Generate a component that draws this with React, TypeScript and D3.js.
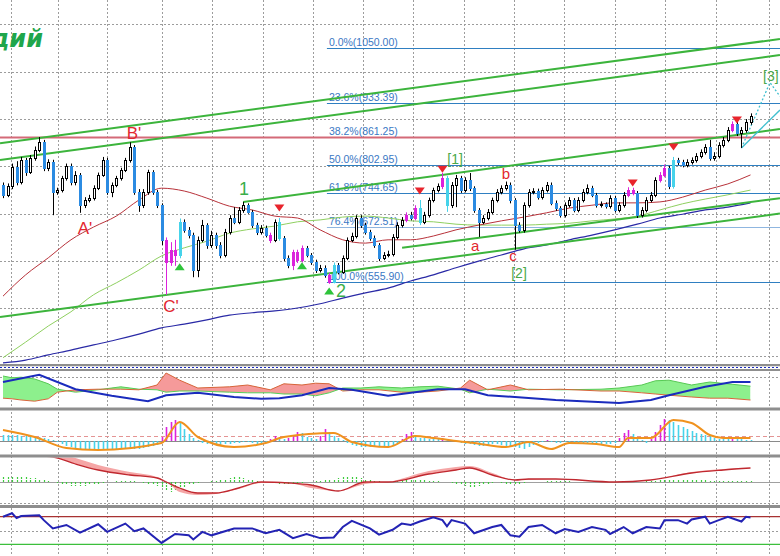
import React from "react";
import * as d3 from "d3";

// ---------- price candles (daily), index 0..165 ----------
const firstOpen = 760;
const closes = [
  740, 758, 799, 767, 813, 788, 818, 835, 851, 796,
  809, 746, 750, 775, 801, 767, 782, 718, 729, 733,
  754, 782, 813, 746, 761, 775, 792, 813, 841, 746,
  718, 746, 788, 746, 718, 645, 598, 624, 613, 683,
  666, 655, 581, 645, 676, 634, 655, 634, 613, 661,
  691, 683, 708, 718, 704, 676, 661, 670, 655, 645,
  683, 649, 607, 592, 619, 602, 628, 613, 598, 581,
  586, 571, 556, 592, 577, 607, 645, 653, 691, 676,
  661, 649, 634, 607, 613, 615, 651, 676, 687, 697,
  691, 712, 683, 697, 729, 750, 758, 775, 718, 761,
  775, 750, 771, 754, 708, 683, 691, 704, 729, 746,
  754, 761, 729, 676, 666, 718, 746, 748, 735, 750,
  761, 723, 712, 697, 718, 729, 708, 729, 746, 754,
  740, 718, 720, 716, 733, 708, 718, 740, 750, 744,
  697, 708, 729, 740, 771, 782, 796, 758, 813, 809,
  803, 809, 813, 822, 830, 841, 818, 822, 845, 856,
  877, 889, 870, 877, 894, 906,
];
const highs = [
  766, 764, 806, 811, 820, 818, 824, 842, 862, 856,
  815, 814, 755, 780, 806, 806, 790, 786, 735, 740,
  760, 787, 820, 818, 766, 780, 797, 818, 851, 845,
  752, 752, 793, 792, 750, 722, 650, 640, 645, 690,
  688, 672, 660, 652, 687, 680, 664, 660, 640, 668,
  697, 714, 714, 725, 722, 708, 681, 676, 675, 660,
  688, 691, 653, 612, 624, 624, 633, 632, 617, 603,
  592, 591, 575, 597, 596, 612, 650, 660, 697, 697,
  681, 666, 654, 638, 619, 622, 657, 682, 693, 703,
  704, 718, 729, 704, 734, 755, 764, 786, 780, 767,
  782, 780, 777, 786, 758, 712, 697, 710, 734, 752,
  760, 768, 766, 733, 682, 724, 752, 754, 753, 756,
  767, 766, 728, 716, 724, 735, 733, 735, 752, 762,
  759, 744, 726, 724, 739, 738, 724, 746, 756, 755,
  748, 714, 735, 746, 777, 788, 804, 801, 820, 818,
  814, 815, 819, 828, 836, 847, 856, 830, 851, 862,
  883, 895, 894, 883, 900, 912,
];
const lows = [
  733, 735, 752, 760, 762, 780, 784, 812, 830, 790,
  790, 697, 740, 745, 770, 760, 760, 702, 712, 724,
  728, 750, 778, 740, 735, 756, 770, 788, 808, 740,
  704, 712, 740, 740, 712, 634, 529, 590, 590, 606,
  660, 648, 566, 566, 640, 626, 628, 626, 606, 608,
  656, 678, 678, 702, 700, 670, 655, 656, 650, 638,
  640, 643, 600, 585, 581, 596, 597, 608, 592, 575,
  576, 565, 552, 553, 572, 573, 602, 640, 648, 670,
  656, 643, 628, 600, 602, 608, 610, 646, 671, 682,
  686, 686, 676, 678, 692, 724, 745, 752, 704, 712,
  714, 744, 745, 748, 702, 651, 678, 686, 699, 724,
  741, 749, 722, 624, 660, 660, 713, 741, 730, 730,
  745, 718, 706, 692, 692, 713, 703, 703, 724, 741,
  735, 713, 713, 711, 711, 703, 703, 713, 735, 739,
  691, 692, 703, 724, 735, 766, 777, 752, 753, 803,
  798, 798, 804, 808, 817, 825, 812, 812, 817, 840,
  851, 872, 864, 839, 871, 888,
];
const magentaIdx = [36, 37, 38, 59, 64, 65, 66, 72, 89, 91, 97, 138, 139, 145, 146, 161];
const cyanIdx = [39, 61, 73, 92, 98, 148];

// moving averages sampled every 5 bars (index 0,5,...,165)
const maStep = 5;
const maRed = [526, 571, 607, 645, 672, 695, 729, 754, 748, 733, 716, 708, 695, 691, 666, 645, 638, 645, 645, 653, 666, 676, 685, 693, 702, 712, 718, 723, 723, 725, 735, 750, 763, 782];
const maGreen = [396, 429, 463, 493, 529, 554, 581, 611, 628, 642, 659, 668, 674, 683, 687, 693, 695, 691, 685, 683, 678, 676, 676, 676, 678, 680, 685, 689, 695, 708, 721, 731, 740, 750];
const maNavy = [385, 391, 402, 412, 423, 434, 446, 459, 467, 476, 486, 491, 495, 501, 510, 522, 533, 543, 558, 571, 586, 600, 613, 626, 634, 645, 655, 666, 678, 691, 699, 708, 714, 723];

// Fibonacci retracement
const fibHigh = 1050.0;
const fibLow = 555.9;
const fibStartIdx = 71.5;
const fibLevels = [0, 23.6, 38.2, 50.0, 61.8, 76.4, 100.0];

// trend channel lines: [index, price] endpoints
const channelA = [[-0.66, 849], [171.5, 1069]];
const channelB = [[-0.66, 813.5], [171.5, 1035]];
const channelC = [[53, 725], [171.5, 879]];
const channelD = [[88.1, 628], [171.5, 733]];
const channelE = [[-0.66, 482], [171.5, 700.5]];
const projSolid = [[163, 839], [171.5, 919]];
const projDotted = [[163, 839], [169.3, 977], [171.5, 948]];

// markers
const downMarks = [[61, 712], [92, 748], [97, 794], [139, 765], [148, 841], [162, 898]];
const upMarks = [[39, 588], [66, 590], [72, 537]];

const waveLabels = [
  { t: "A'", i: 18.1, p: 670, c: "#e3262f", s: 17 },
  { t: "B'", i: 28.9, p: 870, c: "#e3262f", s: 17 },
  { t: "C'", i: 37.1, p: 505, c: "#e3262f", s: 17 },
  { t: "1", i: 53.2, p: 752, c: "#3aae4a", s: 18 },
  { t: "2", i: 74.6, p: 537, c: "#3aae4a", s: 18 },
  { t: "[1]", i: 99.8, p: 816, c: "#4aa84a", s: 14 },
  { t: "[2]", i: 113.9, p: 575, c: "#4aa84a", s: 14 },
  { t: "[3]", i: 169.5, p: 991, c: "#4aa84a", s: 14 },
  { t: "a", i: 104.2, p: 632, c: "#e3262f", s: 15 },
  { t: "b", i: 111, p: 784, c: "#e3262f", s: 15 },
  { t: "c", i: 112.6, p: 612, c: "#e3262f", s: 15 },
];

// time grid (index positions of date separators)
const gridIdx = [1.8, 12.1, 23, 35.1, 46.1, 57.4, 68.4, 79.5, 90.5, 101.8, 112.8, 123.8, 135.1, 146.1, 157.4, 169.1];

// ---------- panel 2: directional indicator ----------
const diIdx = [0, 2, 4, 7, 10, 12, 16, 21, 26, 30, 34, 36, 39, 43, 50, 54, 59, 62, 66, 69, 72, 75, 79, 83, 88, 92, 96, 101, 103, 107, 112, 116, 123, 132, 136, 141, 144, 147, 152, 156, 160, 165];
const diPlus = [50, 47, 48, 45, 37, 28, 23, 27, 32, 28, 27, 23, 25, 25, 23, 22, 22, 20, 20, 17, 22, 30, 30, 32, 30, 32, 33, 28, 22, 28, 25, 28, 27, 28, 30, 35, 42, 43, 35, 40, 37, 33];
const diMinus = [13, 12, 10, 8, 12, 23, 27, 28, 28, 27, 35, 55, 43, 30, 32, 35, 27, 37, 35, 38, 37, 25, 27, 27, 23, 23, 25, 30, 43, 27, 35, 27, 28, 25, 25, 22, 20, 18, 15, 13, 13, 10];
const adxPts = [[0, 40], [8, 52], [16, 28], [24, 17], [32, 8], [36, 18], [43, 22], [51, 15], [57, 12], [61, 13], [66, 18], [72, 30], [77, 27], [85, 17], [96, 28], [102, 28], [107, 18], [113, 15], [122, 10], [136, 5], [143, 10], [147, 18], [155, 32], [161, 40], [165, 40]];

// ---------- panel 3: oscillator histogram + signal ----------
const oscHist = [
  6, 6, 6, 6, 5, 5, 5, 4, 4, 3,
  2, 1, -1, -3, -5, -6, -7, -8, -9, -9,
  -9, -9, -9, -9, -8, -8, -8, -8, -7, -8,
  -8, -7, -6, -5, -4, 4, 14, 19, 21, 18,
  12, 7, 3, 1, -2, -3, -3, -4, -4, -3,
  -3, -2, -2, -1, -1, -2, -3, -3, -2, 2,
  5, 3, 2, 3, 6, 9, 8, 4, 3, 2,
  5, 12, 9, 5, 3, 1, -2, -4, -5, -6,
  -6, -6, -6, -5, -5, -6, -5, -3, 2, 7,
  9, 6, 3, 3, 2, 2, 2, 3, 1, 1,
  -1, -2, -3, -3, -4, -5, -5, -4, -3, -3,
  -4, -5, -5, -6, -7, -8, -6, -4, -2, -1,
  1, -1, -2, -2, -1, -2, -3, -3, -3, -3,
  -3, -3, -3, -3, -3, -2, 3, 8, 11, 7,
  3, 1, -2, 2, 9, 16, 22, 21, 19, 16,
  14, 12, 10, 8, 7, 6, 5, 3, 2, 2,
  2, 4, 3, 2, 1, 1,
];
const oscSignal = [[0, 11], [7, 4], [14, -7], [21, -9], [35, -2], [39, 19], [43, 4], [51, -6], [58, -2], [62, 4], [73, 8], [77, -1], [85, -6], [91, 5], [95, 3], [102, -1], [104, -2], [111, -6], [116, -1], [121, -8], [125, -2], [131, -3], [136, -6], [138, 3], [143, 3], [148, 21], [152, 18], [156, 6], [159, 3], [165, 3]];
const oscLevel = 5;

// ---------- panel 4: MACD-like line, signal, histogram ----------
const mIdx = [0, 11, 16, 21, 28, 34, 36, 39, 43, 47, 52, 57, 63, 68, 74, 80, 85, 94, 100, 103, 108, 113, 116, 122, 135, 143, 152, 159, 165];
const mMain = [28, 25, 18, 12, 7, 4, 0, -6, -11, -11, -6, 0, -1, -3, -9, 0, 0, 8, 12, 14, 7, 2, 3, 3, 0, 2, 9, 12, 14];
const mSignal = [28, 29, 24, 17, 10, 5, 1, -10, -13, -12, -7, -1, -1, -6, -9, -2, 0, 11, 15, 16, 9, 2, 2, 3, 0, 2, 10, 13, 14];
const mHist = [
  5, 5, 5, 5, 5, 5, 4, 4, 3, 2,
  1, 0, -1, -2, -3, -4, -4, -4, -4, -3,
  -3, -2, -1, 0, 0, 1, 1, 1, 1, 1,
  0, -1, -2, -3, -4, -6, -9, -10, -9, -7,
  -5, -3, -2, -1, 0, 0, 1, 1, 2, 3,
  4, 5, 5, 4, 3, 2, 1, 0, 0, -1,
  -1, -2, -3, -3, -3, -2, -1, 0, 0, 1,
  1, 2, 2, 3, 4, 5, 6, 6, 5, 4,
  3, 2, 1, 1, 0, 0, 1, 1, 2, 2,
  3, 3, 2, 2, 1, 1, 1, 0, 0, -1,
  -2, -3, -4, -5, -5, -4, -3, -2, -1, 0,
  -1, -2, -3, -3, -2, -1, 0, 0, 0, 0,
  1, 1, 1, 1, 1, 1, 0, 0, 0, 0,
  0, 0, 0, 0, 0, 0, 0, 0, 0, 0,
  0, 0, 1, 1, 1, 2, 2, 2, 2, 2,
  2, 2, 2, 2, 2, 2, 1, 1, 1, 1,
  1, 1, 1, 1, 1, 1,
];

// ---------- panel 5: RSI ----------
const rsiPts = [[0, 70], [2, 75], [3, 68], [4, 71], [8, 72], [9, 65], [11, 53], [14, 58], [17, 47], [21, 59], [23, 48], [27, 60], [29, 49], [31, 53], [35, 32], [38, 45], [41, 43], [42, 37], [44, 48], [46, 43], [51, 53], [55, 53], [58, 46], [61, 51], [64, 39], [67, 45], [70, 39], [73, 40], [75, 55], [77, 64], [81, 53], [83, 44], [86, 51], [88, 60], [90, 58], [92, 63], [95, 69], [97, 65], [98, 56], [99, 65], [102, 60], [104, 46], [108, 55], [110, 58], [112, 43], [114, 41], [116, 55], [119, 58], [122, 46], [124, 52], [127, 48], [130, 55], [133, 51], [134, 45], [137, 55], [139, 46], [142, 55], [145, 53], [146, 65], [149, 65], [151, 60], [152, 66], [155, 70], [156, 60], [158, 65], [160, 70], [163, 63], [164, 70], [165, 69]];
const rsiUpper = 70;
const rsiLower = 30;

const W = 780;
const H = 556;
const BLUE = "#2b8be2";
const MAG = "#dc22dc";
const CYAN = "#46d3ea";
const GREENL = "#3cb43c";

export default function App() {
  const x = d3.scaleLinear().domain([0, 165]).range([3, 750.5]);
  const yP = d3.scaleLinear().domain([fibLow, fibHigh]).range([282, 48]);
  const y2 = d3.scaleLinear().domain([0, 60]).range([406, 370]);
  const y3 = d3.scaleLinear().domain([-14, 30]).range([455, 411]);
  const y4 = d3.scaleLinear().domain([-23, 24]).range([505, 458]);
  const y5 = d3.scaleLinear().domain([rsiLower, rsiUpper]).range([544.3, 516.7]);

  const opens = closes.map((c, i) => (i === 0 ? firstOpen : closes[i - 1]));
  const ptLine = (ys: d3.ScaleLinear<number, number>) =>
    d3.line<number[]>().x((d) => x(d[0])).y((d) => ys(d[1]));
  const maLine = (vals: number[]) =>
    d3.line<number>().x((_, k) => x(k * maStep)).y((d) => yP(d)).curve(d3.curveMonotoneX)(vals) || "";

  const priceGrid = d3.range(400, 1101, 100);

  // panel 2 fills
  const diArea = d3.area<number>().x((_, k) => x(diIdx[k])).y0((_, k) => y2(diMinus[k])).y1((_, k) => y2(diPlus[k]));
  const aboveMinus = d3.area<number>().x((_, k) => x(diIdx[k])).y0(360).y1((_, k) => y2(diMinus[k]));
  const abovePlus = d3.area<number>().x((_, k) => x(diIdx[k])).y0(360).y1((_, k) => y2(diPlus[k]));
  const diLine = (vals: number[]) => d3.line<number>().x((_, k) => x(diIdx[k])).y((d) => y2(d))(vals) || "";

  const mArea = d3.area<number>().x((_, k) => x(mIdx[k])).y0((_, k) => y4(mMain[k])).y1((_, k) => y4(mSignal[k])).curve(d3.curveMonotoneX);
  const mLine = (vals: number[]) => d3.line<number>().x((_, k) => x(mIdx[k])).y((d) => y4(d)).curve(d3.curveMonotoneX)(vals) || "";

  const tri = (cx: number, cy: number, down: boolean) => {
    const h = 7, w = 5;
    return down
      ? `M${cx - w},${cy - h / 2}L${cx + w},${cy - h / 2}L${cx},${cy + h / 2}Z`
      : `M${cx - w},${cy + h / 2}L${cx + w},${cy + h / 2}L${cx},${cy - h / 2}Z`;
  };

  const dot = "2,2";
  const gridColor = "#9c9c9c";

  return (
    <svg width={W} height={H} style={{ position: "absolute", left: 0, top: 0, background: "#fff" }} xmlns="http://www.w3.org/2000/svg">
      <defs>
        <clipPath id="cMain"><rect x={0} y={0} width={W} height={364} /></clipPath>
        <clipPath id="c2"><rect x={0} y={371} width={W} height={36.5} /></clipPath>
        <clipPath id="c2m"><path d={aboveMinus(diMinus) || ""} /></clipPath>
        <clipPath id="c2p"><path d={abovePlus(diPlus) || ""} /></clipPath>
        <clipPath id="c3"><rect x={0} y={410.5} width={W} height={44} /></clipPath>
        <clipPath id="c4"><rect x={0} y={457.5} width={W} height={47.5} /></clipPath>
        <clipPath id="c5"><rect x={0} y={508} width={W} height={48} /></clipPath>
      </defs>
      <rect x={0} y={0} width={W} height={H} fill="#fff" />

      {/* vertical time grid */}
      {gridIdx.map((g, k) => (
        <line key={"vg" + k} x1={Math.round(x(g)) + 0.5} x2={Math.round(x(g)) + 0.5} y1={0} y2={H} stroke={gridColor} strokeDasharray={dot} />
      ))}

      {/* ---------- main price panel ---------- */}
      <g clipPath="url(#cMain)">
        {priceGrid.map((p) => (
          <line key={"hg" + p} x1={0} x2={W} y1={Math.round(yP(p)) + 0.5} y2={Math.round(yP(p)) + 0.5} stroke={gridColor} strokeDasharray={dot} />
        ))}

        {/* fib lines */}
        {fibLevels.map((r) => {
          const p = fibHigh - (r / 100) * (fibHigh - fibLow);
          const yy = Math.round(yP(p)) + 0.5;
          const is38 = r === 38.2;
          return (
            <g key={"fib" + r}>
              {is38 ? (
                <line x1={0} x2={W} y1={yy} y2={yy} stroke="#d46a78" strokeWidth={2} />
              ) : (
                <line x1={x(fibStartIdx)} x2={W} y1={yy} y2={yy} stroke={r === 76.4 ? "#8fb6e0" : "#2f7fc1"} strokeWidth={1} />
              )}
              <text x={x(fibStartIdx) + 2} y={yy - 2.5} fontFamily="Liberation Sans, Arial, sans-serif" fontSize={10.5} fill="#3a78c4">
                {`${r.toFixed(1)}%(${p.toFixed(2)})`}
              </text>
            </g>
          );
        })}

        {/* moving averages */}
        <path d={maLine(maNavy)} fill="none" stroke="#2a2aa6" strokeWidth={1.2} />
        <path d={maLine(maGreen)} fill="none" stroke="#8fd060" strokeWidth={1} />
        <path d={maLine(maRed)} fill="none" stroke="#b8323a" strokeWidth={1} />

        {/* channel lines */}
        {[channelA, channelB, channelC, channelD, channelE].map((c, k) => (
          <path key={"ch" + k} d={ptLine(yP)(c) || ""} stroke={GREENL} strokeWidth={2} fill="none" />
        ))}
        <path d={ptLine(yP)(projSolid) || ""} stroke="#3fbfcf" strokeWidth={1.3} fill="none" />
        <path d={ptLine(yP)(projDotted) || ""} stroke="#3fbfcf" strokeWidth={1.3} strokeDasharray="2,2" fill="none" />

        {/* candles */}
        {closes.map((c, i) => {
          const o = opens[i];
          const cx = Math.round(x(i));
          const up = c >= o;
          const special = magentaIdx.includes(i) ? MAG : cyanIdx.includes(i) ? CYAN : null;
          const yTop = Math.round(yP(Math.max(o, c)));
          const yBot = Math.round(yP(Math.min(o, c)));
          const fill = special || (up ? "#fff" : BLUE);
          const stroke = special || (up ? "#000" : BLUE);
          return (
            <g key={"cd" + i}>
              <line x1={cx + 0.5} x2={cx + 0.5} y1={yP(highs[i])} y2={yP(lows[i])} stroke={special || "#000"} strokeWidth={1} />
              <rect x={cx - 0.5} y={yTop + 0.5} width={2} height={Math.max(1, yBot - yTop)} fill={fill} stroke={stroke} strokeWidth={1} />
            </g>
          );
        })}

        {/* markers */}
        {downMarks.map((m, k) => (
          <path key={"dm" + k} d={tri(x(m[0]), yP(m[1]), true)} fill="#e8242c" />
        ))}
        {upMarks.map((m, k) => (
          <path key={"um" + k} d={tri(x(m[0]), yP(m[1]), false)} fill="#2ec43a" />
        ))}

        {/* wave labels */}
        {waveLabels.map((l, k) => (
          <text key={"wl" + k} x={x(l.i)} y={yP(l.p)} dy="0.35em" textAnchor="middle" fontFamily="Liberation Sans, Arial, sans-serif" fontSize={l.s} fill={l.c}>
            {l.t}
          </text>
        ))}

        {/* title */}
        <text x={43} y={47} textAnchor="end" fontFamily="DejaVu Sans, sans-serif" fontWeight="bold" fontStyle="italic" fontSize={24} fill="#1fa64b">
          Палладий
        </text>
      </g>

      {/* ---------- panel 2 ---------- */}
      <g clipPath="url(#c2)">
        <line x1={0} x2={W} y1={Math.round(y2(48)) + 0.5} y2={Math.round(y2(48)) + 0.5} stroke={gridColor} strokeDasharray={dot} />
        <g clipPath="url(#c2m)">
          <path d={diArea(diPlus) || ""} fill="#8df08d" />
        </g>
        <g clipPath="url(#c2p)">
          <path d={diArea(diPlus) || ""} fill="#f59a9a" />
        </g>
        <path d={diLine(diPlus)} fill="none" stroke="#55cc55" strokeWidth={1} />
        <path d={diLine(diMinus)} fill="none" stroke="#d8643a" strokeWidth={1} />
        <path d={ptLine(y2)(adxPts) || ""} fill="none" stroke="#1a2bbd" strokeWidth={2} />
      </g>

      {/* ---------- panel 3 ---------- */}
      <g clipPath="url(#c3)">
        <line x1={0} x2={W} y1={Math.round(y3(oscLevel)) + 0.5} y2={Math.round(y3(oscLevel)) + 0.5} stroke="#e49494" strokeDasharray="4,3" />
        <line x1={0} x2={W} y1={Math.round(y3(0)) + 0.5} y2={Math.round(y3(0)) + 0.5} stroke="#8a8a8a" />
        {oscHist.map((v, i) => {
          const prev = i > 0 ? oscHist[i - 1] : v;
          const col = v > 0 && v > prev ? MAG : CYAN;
          const cx = Math.round(x(i)) + 0.5;
          return <line key={"oh" + i} x1={cx} x2={cx} y1={y3(0)} y2={y3(v)} stroke={col} strokeWidth={1.6} />;
        })}
        <path d={d3.line<number[]>().x((d) => x(d[0])).y((d) => y3(d[1])).curve(d3.curveMonotoneX)(oscSignal) || ""} fill="none" stroke="#f0921e" strokeWidth={2} />
      </g>

      {/* ---------- panel 4 ---------- */}
      <g clipPath="url(#c4)">
        <line x1={0} x2={W} y1={Math.round(y4(-21)) + 0.5} y2={Math.round(y4(-21)) + 0.5} stroke={gridColor} strokeDasharray={dot} />
        <line x1={0} x2={W} y1={Math.round(y4(0)) + 0.5} y2={Math.round(y4(0)) + 0.5} stroke="#a0a0a0" />
        {mHist.map((v, i) => {
          const cx = Math.round(x(i)) + 0.5;
          return v === 0 ? null : <line key={"mh" + i} x1={cx} x2={cx} y1={y4(0)} y2={y4(v)} stroke="#3ccc3c" strokeWidth={1.2} strokeDasharray="2,1" />;
        })}
        <path d={mArea(mMain) || ""} fill="#f5a6a6" />
        <path d={mLine(mMain)} fill="none" stroke="#c0282f" strokeWidth={1.3} />
      </g>

      {/* ---------- panel 5 RSI ---------- */}
      <g clipPath="url(#c5)">
        <line x1={0} x2={W} y1={Math.round(y5(50)) + 0.5} y2={Math.round(y5(50)) + 0.5} stroke={gridColor} strokeDasharray={dot} />
        <line x1={0} x2={W} y1={y5(rsiUpper)} y2={y5(rsiUpper)} stroke="#a83232" strokeWidth={1.3} />
        <line x1={0} x2={W} y1={y5(rsiLower)} y2={y5(rsiLower)} stroke="#3cbf3c" strokeWidth={1.3} />
        <path d={ptLine(y5)(rsiPts) || ""} fill="none" stroke="#2323b4" strokeWidth={2} />
      </g>

      {/* panel separators */}
      <rect x={0} y={364} width={W} height={2.5} fill="#8e8e8e" />
      <rect x={0} y={366.5} width={W} height={2.5} fill="#fff" />
      <line x1={0} x2={W} y1={367.5} y2={367.5} stroke="#1b2dbd" strokeDasharray="2,2" />
      <rect x={0} y={369} width={W} height={2} fill="#8e8e8e" />
      <rect x={0} y={407.5} width={W} height={3} fill="#8e8e8e" />
      <rect x={0} y={454.5} width={W} height={3} fill="#8e8e8e" />
      <rect x={0} y={505} width={W} height={3} fill="#8e8e8e" />
    </svg>
  );
}
